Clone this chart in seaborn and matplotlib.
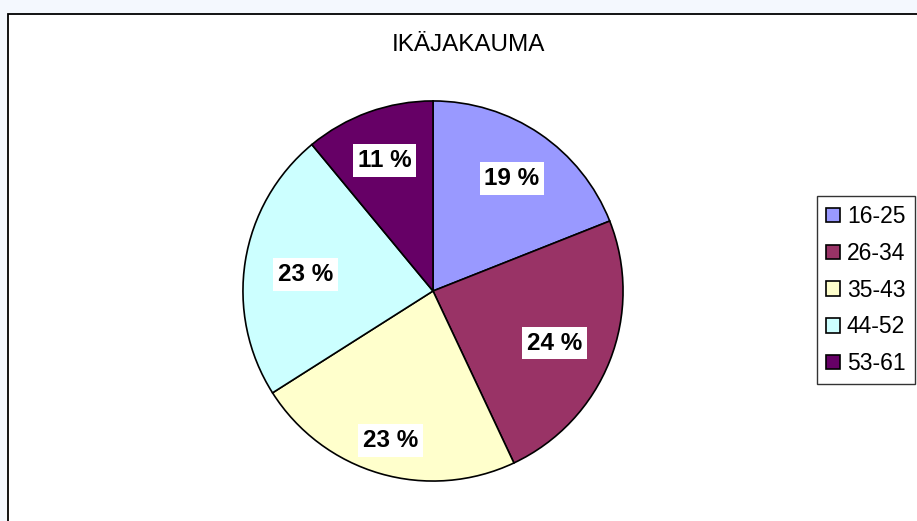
import matplotlib
matplotlib.use("Agg")
import matplotlib.pyplot as plt
from matplotlib.patches import Rectangle
import seaborn as sns

# Data
categories = ["16-25", "26-34", "35-43", "44-52", "53-61"]
shares = [19, 24, 23, 23, 11]
colors = ["#9999FF", "#993366", "#FFFFCC", "#CCFFFF", "#660066"]
title = "IKÄJAKAUMA"

# label placement (style): radial distance of each percentage label
label_radius = [0.74, 0.69, 0.80, 0.68, 0.75]

sns.set_theme(style="white")
plt.rcParams["font.family"] = ["Liberation Sans", "DejaVu Sans"]
plt.rcParams["text.color"] = "black"

W, H = 917, 521
fig = plt.figure(figsize=(W / 100, H / 100), dpi=100)
fig.patch.set_facecolor("#F4F8FE")

# chart area frame (extends past right/bottom edges)
bg = fig.add_axes([0, 0, 1, 1], zorder=0)
bg.set_xlim(0, W)
bg.set_ylim(H, 0)
bg.axis("off")
bg.add_patch(Rectangle((8, 14), W + 50, H + 50, facecolor="white",
                       edgecolor="black", linewidth=1.3))

cx, cy, r = 433, 291, 191
ax = fig.add_axes([(cx - r) / W, (H - cy - r) / H, 2 * r / W, 2 * r / H], zorder=2)
wedges, texts, autotexts = ax.pie(
    shares, colors=colors, startangle=90, counterclock=False,
    autopct=lambda p: f"{p:.0f} %", pctdistance=1.0,
    wedgeprops=dict(edgecolor="black", linewidth=1.2),
    textprops=dict(fontsize=17.5, fontweight="bold", color="black"),
)
for t, rad in zip(autotexts, label_radius):
    x, y = t.get_position()
    t.set_position((x * rad, y * rad - 0.02))
    t.set_bbox(dict(boxstyle="square,pad=0.2", facecolor="white", edgecolor="none"))
ax.set_xlim(-1.005, 1.005)
ax.set_ylim(-1.005, 1.005)
ax.set_aspect("equal")
ax.axis("off")

fig.text(468 / W, 1 - 45 / H, title, ha="center", va="center", fontsize=17.5, color="black")

leg = fig.legend(wedges, categories, loc="upper left",
                 bbox_to_anchor=(817 / W, 1 - 196 / H), bbox_transform=fig.transFigure,
                 fontsize=16.5, frameon=True, fancybox=False, edgecolor="black",
                 handlelength=0.6, handleheight=0.6, handletextpad=0.3,
                 labelspacing=0.6, borderpad=0.4, borderaxespad=0)
leg.set_zorder(3)
leg.get_frame().set_linewidth(1.0)
leg.get_frame().set_facecolor("white")
for t in leg.get_texts():
    t.set_color("black")
for h in leg.legend_handles:
    h.set_edgecolor("black")
    h.set_linewidth(1.2)

fig.savefig("out.png", dpi=100, facecolor=fig.get_facecolor())
